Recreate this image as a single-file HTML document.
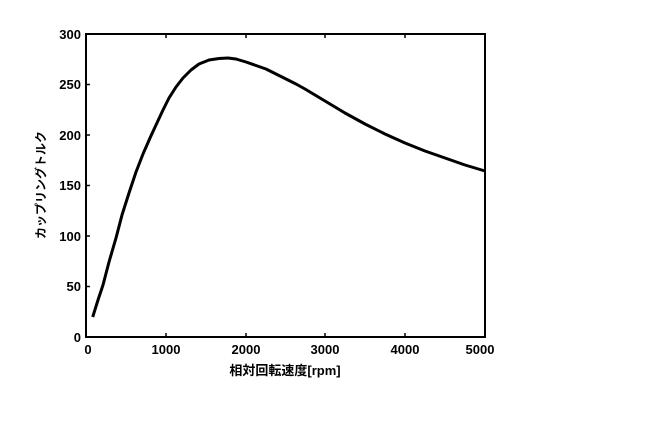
<!DOCTYPE html>
<html><head><style>body{margin:0;background:#fff;width:654px;height:441px;overflow:hidden}</style></head>
<body>
<svg width="654" height="441" xmlns="http://www.w3.org/2000/svg" font-family="Liberation Sans, sans-serif" font-weight="bold" font-size="13">
<rect x="86" y="34" width="399" height="303" fill="none" stroke="#000" stroke-width="2"/>
<g stroke="#000" stroke-width="1.5">
<line x1="166" y1="337" x2="166" y2="333"/><line x1="246" y1="337" x2="246" y2="333"/><line x1="325" y1="337" x2="325" y2="333"/><line x1="405" y1="337" x2="405" y2="333"/>
<line x1="166" y1="34" x2="166" y2="38"/><line x1="246" y1="34" x2="246" y2="38"/><line x1="325" y1="34" x2="325" y2="38"/><line x1="405" y1="34" x2="405" y2="38"/>
<line x1="86" y1="84.5" x2="90" y2="84.5"/><line x1="86" y1="135" x2="90" y2="135"/><line x1="86" y1="185.5" x2="90" y2="185.5"/><line x1="86" y1="236" x2="90" y2="236"/><line x1="86" y1="286.5" x2="90" y2="286.5"/>
</g>
<g text-anchor="end">
<text x="81" y="39">300</text><text x="81" y="89">250</text><text x="81" y="140">200</text><text x="81" y="190">150</text><text x="81" y="241">100</text><text x="81" y="291">50</text><text x="81" y="342">0</text>
</g>
<g text-anchor="middle">
<text x="88" y="354">0</text><text x="166" y="354">1000</text><text x="246" y="354">2000</text><text x="325" y="354">3000</text><text x="405" y="354">4000</text><text x="480" y="354">5000</text>
</g>
<text x="285" y="375" text-anchor="middle" font-family="Liberation Sans, Noto Sans CJK JP, sans-serif">相対回転速度[rpm]</text>
<text transform="translate(45,185) rotate(-90)" text-anchor="middle" font-size="12" font-family="Liberation Sans, Noto Sans CJK JP, sans-serif">カップリングトルク</text>
<polyline points="92.7,317 98,300 103,285 109,262 116,238 122,215 129,193 136,172 143,154 150,138 156,125 163,110 169,98 176,87 183,78 191,70 199,64 209,60 219,58.5 228,58 236,59 246,62 256,65.5 266,69 276,74 286,79 296,84 305,89 315,95 325,101 345,113 365,124 385,134 405,143 425,151 445,158 465,165 485,171" fill="none" stroke="#000" stroke-width="3" stroke-linejoin="round"/>
</svg>
</body></html>
